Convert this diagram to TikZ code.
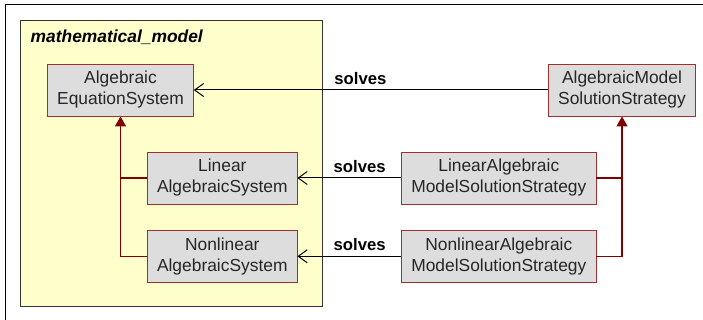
\documentclass[tikz,border=0pt]{standalone}
\usepackage{fontspec}
\setmainfont{Liberation Sans}
\usepackage{tikz}
\usetikzlibrary{arrows.meta}
\usetikzlibrary{calc}
\usetikzlibrary{positioning}

\definecolor{pkgfill}{RGB}{255,255,204}
\definecolor{boxfill}{RGB}{221,221,221}
\definecolor{boxline}{RGB}{160,48,48}
\definecolor{genred}{RGB}{128,0,0}

\tikzset{
    classbox/.style={draw=boxline, fill=boxfill, line width=0.9pt, align=center,
        font=\fontsize{17.4}{21}\selectfont, text=black!85, inner sep=0pt},
    genline/.style={draw=genred, line width=1.2pt},
    gen/.style={genline, -{Triangle[width=11pt,length=10pt]}},
    assoc/.style={draw=black, line width=1pt, -{Straight Barb[length=9pt,width=13pt,line width=1pt]}},
    assoclabel/.style={font=\fontsize{16.7}{20}\selectfont\bfseries, inner sep=0pt}
}

\begin{document}
\begin{tikzpicture}[x=1pt, y=-1pt]
            \useasboundingbox (0, 0) rectangle (703, 320);

            % Frame
            \draw[line width=1pt] (703, 5) -- (5, 5) -- (5, 320);

            % Package
            \draw[fill=pkgfill, draw=black!80, line width=1pt] (20.7, 21) rectangle (322.7, 306.7);
            \node[anchor=west, font=\fontsize{17.4}{20}\selectfont\bfseries\itshape, inner sep=0pt]
                (pkgname) at (30.5, 37) {mathematical\_model};

            % Systems
            \node[classbox, minimum width=145.6pt, minimum height=52pt] (algsys) at (120.5, 90) {Algebraic\\EquationSystem};
            \node[classbox, minimum width=149.3pt, minimum height=52pt] (linsys) at (222.3, 178) {Linear\\AlgebraicSystem};
            \node[classbox, minimum width=149.3pt, minimum height=52.7pt] (nonlinsys) at (222.3, 256.3) {Nonlinear\\AlgebraicSystem};

            % Strategies
            \node[classbox, minimum width=146.6pt, minimum height=52pt] (algstrat) at (622, 90) {AlgebraicModel\\SolutionStrategy};
            \node[classbox, minimum width=194.3pt, minimum height=52pt] (linstrat) at (498.8, 178) {LinearAlgebraic\\ModelSolutionStrategy};
            \node[classbox, minimum width=194.3pt, minimum height=52.7pt] (nonlinstrat) at (498.8, 256.3) {NonlinearAlgebraic\\ModelSolutionStrategy};

            % Generalisations
            \draw[gen] (nonlinsys.west) -| (algsys.south);
            \draw[genline] (linsys.west) -- (linsys.west -| algsys.south);
            \draw[gen] (nonlinstrat.east) -| (algstrat.south);
            \draw[genline] (linstrat.east) -- (linstrat.east -| algstrat.south);

            % Associations
            \draw[assoc] (algstrat.west) -- (algsys.east) node[pos=0.53, above=5pt, assoclabel] {solves};
            \draw[assoc] (linstrat.west) -- (linsys.east) node[pos=0.40, above=5pt, assoclabel] {solves};
            \draw[assoc] (nonlinstrat.west) -- (nonlinsys.east) node[pos=0.40, above=5pt, assoclabel] {solves};
        \end{tikzpicture}
\end{document}
